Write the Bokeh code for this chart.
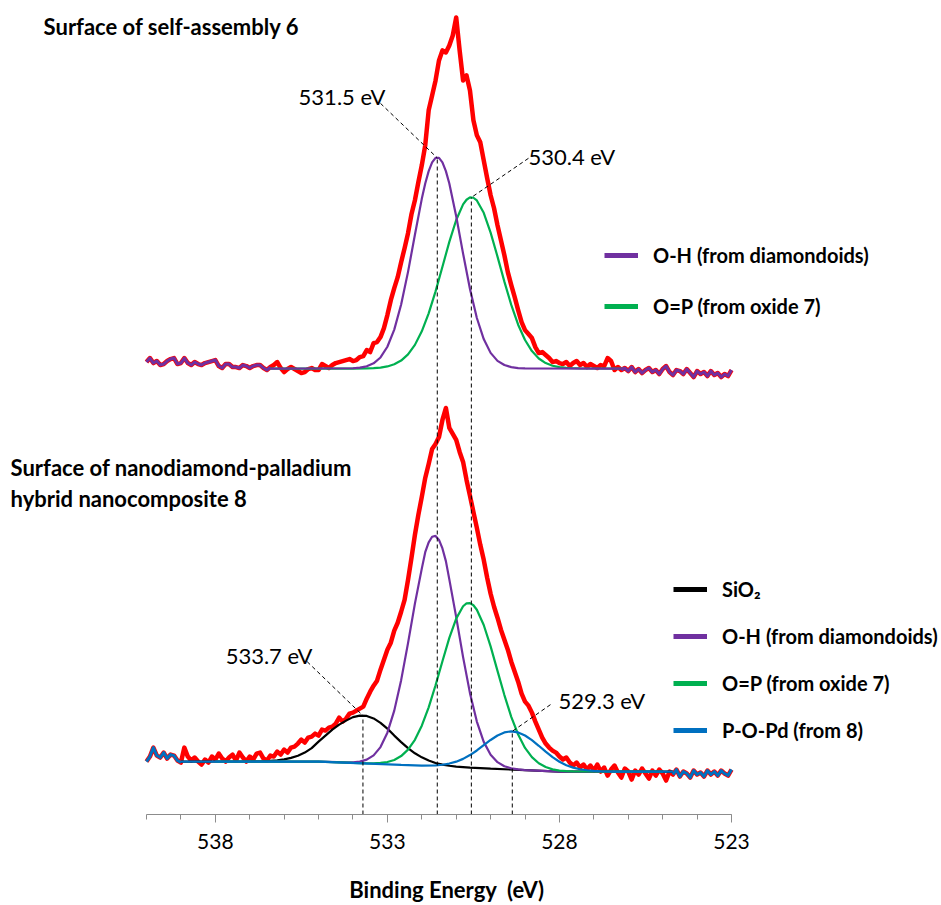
from bokeh.plotting import figure
from bokeh.models import Range1d, FixedTicker, Legend, LegendItem
from bokeh.core.properties import value
from bokeh.embed import file_html
from bokeh.resources import INLINE

# ---------------- data ----------------
# binding energy grid of the measured spectra (eV), 540.0 -> 523.0 in 0.1 eV steps
energy = [round(540.0 - 0.1 * i, 1) for i in range(171)]

# O1s spectrum, surface of self-assembly 6 (a.u.)
top_counts = [
    63, 67, 62, 64, 60, 61, 64, 66, 67, 61, 62, 67, 62, 60, 63, 61, 60, 62, 63, 64,
    65, 59, 57, 61, 61, 58, 58, 57, 60, 59, 57, 59, 60, 60, 57, 55, 58, 60, 63, 57,
    53, 56, 58, 56, 54, 52, 53, 56, 57, 55, 55, 61, 59, 57, 60, 62, 63, 64, 65, 66,
    64, 65, 68, 69, 75, 73, 82, 83, 88, 97, 110, 125, 137, 148, 163, 177, 192, 211, 225, 243,
    260, 280, 315, 330, 345, 365, 375, 373, 380, 390, 408, 375, 345, 350, 335, 305, 290, 283, 265, 247,
    230, 217, 200, 185, 170, 153, 140, 128, 115, 103, 95, 91, 87, 78, 72, 73, 70, 67, 63, 64,
    62, 61, 63, 59, 62, 64, 60, 62, 58, 61, 59, 57, 60, 59, 67, 64, 55, 58, 55, 57,
    54, 58, 53, 56, 52, 55, 57, 53, 55, 51, 56, 59, 53, 50, 55, 54, 51, 56, 52, 48,
    54, 51, 53, 49, 54, 50, 52, 48, 51, 49, 55,
]

# O1s spectrum, surface of nanocomposite 8 (a.u.)
bottom_counts = [
    53, 58, 67, 59, 57, 62, 56, 60, 59, 54, 52, 67, 58, 54, 57, 53, 50, 55, 52, 58,
    55, 61, 56, 53, 57, 60, 54, 62, 57, 53, 58, 55, 61, 62, 56, 54, 59, 58, 63, 60,
    65, 62, 67, 68, 71, 75, 72, 77, 78, 81, 79, 85, 84, 87, 88, 91, 97, 93, 96, 101,
    102, 104, 106, 108, 116, 123, 129, 134, 145, 155, 165, 172, 184, 192, 203, 215, 235, 257, 280, 300,
    318, 337, 351, 366, 371, 378, 395, 407, 387, 381, 375, 363, 353, 335, 319, 303, 287, 270, 255, 237,
    221, 208, 197, 185, 175, 165, 153, 143, 133, 121, 113, 109, 102, 93, 85, 77, 71, 67, 64, 62,
    58, 55, 57, 52, 49, 52, 47, 50, 45, 49, 44, 50, 43, 47, 39, 45, 49, 42, 37, 46,
    43, 35, 44, 40, 46, 41, 36, 44, 39, 45, 41, 34, 43, 40, 45, 38, 43, 41, 37, 44,
    40, 42, 38, 44, 40, 43, 39, 44, 41, 39, 45,
]

# fitted components, self-assembly 6
top_oh_e = [536.4, 534.0, 533.8, 533.6, 533.4, 533.2, 533.0, 532.8, 532.6, 532.4, 532.2, 532.0,
            531.9, 531.8, 531.7, 531.6, 531.5, 531.4, 531.3, 531.2, 531.0, 530.8, 530.6, 530.4,
            530.2, 530.0, 529.8, 529.6, 529.4, 529.2, 529.0, 526.1]
top_oh_i = [56.5, 56.8, 57.4, 58.7, 61.7, 67.6, 78.3, 95.5, 120.7, 153.3, 190.4, 226.4,
            241.8, 254.2, 262.9, 267.4, 267.4, 262.9, 254.2, 241.8, 209.0, 171.6, 136.2, 107.1,
            86.0, 72.2, 64.2, 60.0, 57.9, 57.0, 56.7, 56.5]
top_op_e = [536.4, 534.0, 533.6, 533.4, 533.2, 533.0, 532.8, 532.6, 532.4, 532.2, 532.0, 531.8,
            531.6, 531.4, 531.2, 531.0, 530.8, 530.7, 530.6, 530.5, 530.4, 530.2, 530.0, 529.8,
            529.6, 529.4, 529.2, 529.0, 528.8, 528.6, 528.4, 528.2, 528.0, 527.8, 527.6, 527.4, 526.1]
top_op_i = [56.5, 56.5, 56.7, 57.0, 57.5, 58.6, 60.8, 64.5, 70.7, 80.2, 93.8, 111.8,
            133.8, 158.5, 183.3, 205.2, 220.9, 225.5, 227.8, 227.5, 224.8, 212.4, 192.6, 168.6,
            143.5, 120.2, 100.4, 85.1, 74.0, 66.6, 62.0, 59.3, 57.9, 57.1, 56.8, 56.6, 56.5]

# fitted components, nanocomposite 8
bot_sio2_e = [539.0, 537.0, 536.6, 536.4, 536.2, 536.0, 535.8, 535.6, 535.4, 535.2, 535.0, 534.8,
              534.6, 534.4, 534.2, 534.0, 533.8, 533.6, 533.4, 533.2, 533.0, 532.8, 532.6, 532.4,
              532.2, 532.0, 531.8, 531.6, 531.4, 531.2, 531.0, 530.6, 530.0, 529.0, 528.0, 524.7]
bot_sio2_i = [53.0, 53.1, 53.4, 53.7, 54.3, 55.2, 56.7, 58.8, 62.0, 66.5, 73.0, 79.0,
              85.0, 90.0, 94.0, 97.5, 99.0, 98.7, 96.2, 91.8, 86.0, 79.0, 72.5, 66.4,
              61.3, 57.2, 54.0, 51.6, 50.0, 48.8, 48.0, 46.9, 45.9, 44.4, 43.0, 43.0]
bot_oh_e = [538.0, 535.0, 534.2, 534.0, 533.8, 533.6, 533.4, 533.2, 533.0, 532.8, 532.6, 532.4,
            532.2, 532.0, 531.9, 531.8, 531.7, 531.6, 531.5, 531.4, 531.3, 531.2, 531.0, 530.8,
            530.6, 530.4, 530.2, 530.0, 529.8, 529.6, 529.4, 529.2, 529.0, 528.0, 525.0]
bot_oh_i = [53.0, 53.0, 52.1, 52.2, 52.9, 54.9, 59.2, 67.5, 81.9, 104.0, 134.5, 171.6,
            211.1, 246.2, 262.6, 272.5, 278.1, 278.9, 274.9, 266.4, 253.7, 235.4, 197.6, 157.6,
            121.5, 93.0, 72.7, 59.9, 52.4, 48.3, 46.2, 45.2, 44.5, 43.0, 43.0]
bot_op_e = [538.0, 535.0, 534.0, 533.6, 533.4, 533.2, 533.0, 532.8, 532.6, 532.4, 532.2, 532.0,
            531.8, 531.6, 531.4, 531.2, 531.0, 530.8, 530.7, 530.6, 530.5, 530.4, 530.2, 530.0,
            529.8, 529.6, 529.4, 529.2, 529.0, 528.8, 528.6, 528.4, 528.2, 528.0, 527.8, 527.6, 525.0]
bot_op_i = [53.0, 53.0, 51.6, 51.2, 51.2, 51.6, 52.5, 54.6, 58.5, 64.9, 74.8, 88.9,
            107.3, 129.4, 153.5, 176.8, 196.1, 208.5, 211.3, 211.6, 209.5, 205.0, 189.7, 168.3,
            143.8, 119.6, 97.8, 80.1, 66.7, 57.4, 51.3, 47.5, 45.2, 43.9, 43.4, 43.2, 43.0]
bot_popd_e = [539.0, 535.0, 532.6, 532.0, 531.6, 531.4, 531.2, 531.0, 530.8, 530.6, 530.4, 530.2,
              530.0, 529.8, 529.6, 529.4, 529.2, 529.0, 528.8, 528.6, 528.4, 528.2, 528.0, 527.8,
              527.6, 527.4, 527.2, 527.0, 526.8, 526.4, 524.7]
bot_popd_i = [53.0, 53.0, 49.6, 49.0, 49.1, 49.8, 51.0, 52.9, 55.7, 59.5, 64.1, 69.4,
              74.6, 79.1, 82.2, 83.3, 82.2, 79.1, 74.4, 68.8, 62.9, 57.5, 52.8, 49.4,
              46.9, 45.3, 44.3, 43.7, 43.3, 43.0, 43.0]

# peak positions marked by dashed lines, and their labels
peak_centers = [531.55, 530.56, 533.71, 529.37]
peak_labels = ["531.5 eV", "530.4 eV", "533.7 eV", "529.3 eV"]

tick_values = [538, 533, 528, 523]
legend_top = ["O-H (from diamondoids)", "O=P (from oxide 7)"]
legend_bottom = ["SiO\u2082", "O-H (from diamondoids)", "O=P (from oxide 7)", "P-O-Pd (from 8)"]
panel_titles = ["Surface of self-assembly 6", "Surface of nanodiamond-palladium", "hybrid nanocomposite 8"]
x_title = "Binding Energy \u00a0(eV)"

# ---------------- styling / layout ----------------
TOP_OFFSET = 390
RED, PURPLE, GREEN, BLUE, BLACK = "#FF0000", "#7030A0", "#00B050", "#0070C0", "#000000"
FONT = "Lato"

p = figure(width=941, height=905, output_backend="svg", toolbar_location=None,
           x_range=Range1d(544.2427, 516.8974), y_range=Range1d(0, 815),
           y_axis_location=None, min_border_left=0, min_border_right=0,
           min_border_top=0, min_border_bottom=90)
p.outline_line_color = None
p.xgrid.visible = False
p.ygrid.visible = False
p.background_fill_color = "white"
p.border_fill_color = "white"

top_shift = [v + TOP_OFFSET for v in top_counts]

# measured spectra
p.line(energy, top_shift, line_color=RED, line_width=4.5, line_join="round")
p.line(energy, bottom_counts, line_color=RED, line_width=4.5, line_join="round")

# fits, top
p.line(top_op_e, [v + TOP_OFFSET for v in top_op_i], line_color=GREEN, line_width=2.2)
p.line(top_oh_e, [v + TOP_OFFSET for v in top_oh_i], line_color=PURPLE, line_width=2.2)
p.line(energy[:37], top_shift[:37], line_color=PURPLE, line_width=3, line_join="round")
p.line(energy[138:], top_shift[138:], line_color=PURPLE, line_width=3, line_join="round")

# fits, bottom
p.line(bot_sio2_e, bot_sio2_i, line_color=BLACK, line_width=2.2)
p.line(bot_oh_e, bot_oh_i, line_color=PURPLE, line_width=2.2)
p.line(bot_op_e, bot_op_i, line_color=GREEN, line_width=2.2)
p.line(bot_popd_e, bot_popd_i, line_color=BLUE, line_width=2.2)
p.line(energy[:11], bottom_counts[:11], line_color=BLUE, line_width=3, line_join="round")
p.line(energy[153:], bottom_counts[153:], line_color=BLUE, line_width=3, line_join="round")

# dashed drop lines from the peak maxima to the axis
peak_tops = [max(top_oh_i) + TOP_OFFSET, max(top_op_i) + TOP_OFFSET, max(bot_sio2_i), max(bot_popd_i)]
p.segment(x0=peak_centers, y0=[0] * 4, x1=peak_centers, y1=peak_tops,
          line_color=BLACK, line_width=1, line_dash="4 3")

# leader lines from labels to peaks
lab_x = [533.20, 528.90, 535.33, 528.26]
lab_y = [712, 657, 153, 110]
p.segment(x0=lab_x, y0=lab_y, x1=peak_centers, y1=peak_tops,
          line_color=BLACK, line_width=1, line_dash="4 3")

p.text(x=[535.58, 528.90, 537.70, 528.03], y=[719, 659, 159, 114], text=peak_labels,
       text_font=value(FONT), text_font_size="22px", text_color=BLACK,
       text_baseline="middle", text_align="left")

p.text(x=[542.99, 543.95, 543.95], y=[789, 347, 316], text=panel_titles,
       text_font=value(FONT), text_font_size="22px", text_font_style="bold",
       text_color=BLACK, text_baseline="middle", text_align="left")

# x axis
ax = p.xaxis[0]
ax.bounds = (523, 540)
ax.ticker = FixedTicker(ticks=tick_values, minor_ticks=list(range(523, 541)))
ax.axis_line_color = "#8C8C8C"
ax.major_tick_line_color = "#8C8C8C"
ax.minor_tick_line_color = "#8C8C8C"
ax.major_tick_in = 0
ax.major_tick_out = 8
ax.minor_tick_in = 0
ax.minor_tick_out = 5
ax.major_label_text_font = FONT
ax.major_label_text_font_size = "21px"
ax.major_label_text_color = BLACK
ax.major_label_text_line_height = 1.0
ax.major_label_standoff = 11
# the axis title is centred on the frame; trailing no-break spaces move its centre
# over the middle of the 540-523 axis
ax.axis_label = x_title + "\u00a0" * 9
ax.axis_label_text_font = FONT
ax.axis_label_text_font_size = "22px"
ax.axis_label_text_font_style = "bold"
ax.axis_label_text_color = BLACK
ax.axis_label_text_line_height = 1.0
ax.axis_label_standoff = 24

# legends (off-screen one-segment renderers carry the thick legend line style)
def legend_renderer(color):
    return p.line(x=[560, 561], y=[-100, -100], line_color=color, line_width=5)

top_items = [LegendItem(label=legend_top[0], renderers=[legend_renderer(PURPLE)]),
             LegendItem(label=legend_top[1], renderers=[legend_renderer(GREEN)])]
bot_items = [LegendItem(label=legend_bottom[0], renderers=[legend_renderer(BLACK)]),
             LegendItem(label=legend_bottom[1], renderers=[legend_renderer(PURPLE)]),
             LegendItem(label=legend_bottom[2], renderers=[legend_renderer(GREEN)]),
             LegendItem(label=legend_bottom[3], renderers=[legend_renderer(BLUE)])]

for items, loc, spacing in [(top_items, (604, 496), 27), (bot_items, (673, 72), 23)]:
    lg = Legend(items=items, location=loc, spacing=spacing, padding=0, margin=0,
                glyph_width=34, glyph_height=22, label_height=22, label_standoff=15,
                label_text_font=FONT, label_text_font_size="20px",
                label_text_font_style="bold", label_text_color=BLACK,
                border_line_color=None, background_fill_alpha=0)
    p.add_layout(lg)

open("out.html", "w").write(file_html(p, INLINE))
